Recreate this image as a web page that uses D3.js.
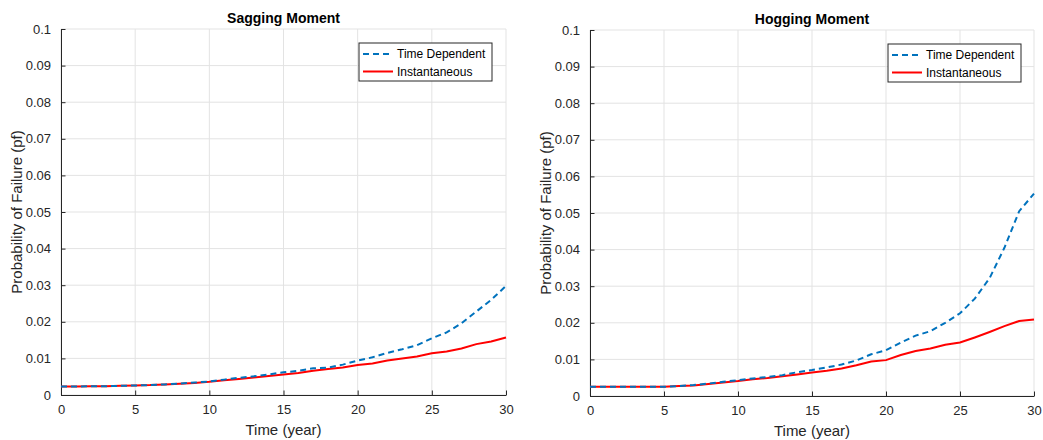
<!DOCTYPE html>
<html>
<head>
<meta charset="utf-8">
<script src="https://cdn.jsdelivr.net/npm/d3@7"></script>
<style>
  body { margin: 0; background: #fff; }
  svg { display: block; font-family: "Liberation Sans", Arial, sans-serif; }
</style>
</head>
<body>
<div id="chart"></div>
<script>
const years = d3.range(0, 31);
const xTicks = [0, 5, 10, 15, 20, 25, 30];
const yTicks = [0, 0.01, 0.02, 0.03, 0.04, 0.05, 0.06, 0.07, 0.08, 0.09, 0.1];
const yTickLabels = ["0", "0.01", "0.02", "0.03", "0.04", "0.05", "0.06", "0.07", "0.08", "0.09", "0.1"];
const seriesNames = ["Time Dependent", "Instantaneous"];

const sagTD = [0.0023, 0.0023, 0.0024, 0.0024, 0.0025, 0.0026, 0.0027, 0.0029, 0.0031, 0.0034,
  0.0037, 0.0042, 0.0047, 0.0051, 0.0056, 0.0062, 0.0066, 0.0073, 0.0075, 0.0083,
  0.0094, 0.0103, 0.0115, 0.0125, 0.0136, 0.0155, 0.0171, 0.0196, 0.0228, 0.026, 0.0298];
const sagInst = [0.0023, 0.0023, 0.0024, 0.0024, 0.0025, 0.0026, 0.0027, 0.0029, 0.0031, 0.0033,
  0.0036, 0.004, 0.0044, 0.0048, 0.0052, 0.0056, 0.006, 0.0066, 0.0071, 0.0075,
  0.0082, 0.0086, 0.0094, 0.01, 0.0105, 0.0114, 0.0119, 0.0127, 0.0139, 0.0146, 0.0157];
const hogTD = [0.0025, 0.0025, 0.0025, 0.0025, 0.0025, 0.0025, 0.0027, 0.003, 0.0034, 0.0039,
  0.0043, 0.0048, 0.0052, 0.0057, 0.0065, 0.0071, 0.0078, 0.0086, 0.0097, 0.0114,
  0.0125, 0.0146, 0.0165, 0.0177, 0.02, 0.0226, 0.0266, 0.0322, 0.0405, 0.0505, 0.0553];
const hogInst = [0.0025, 0.0025, 0.0025, 0.0025, 0.0025, 0.0025, 0.0027, 0.0029, 0.0033, 0.0037,
  0.0041, 0.0046, 0.0049, 0.0054, 0.0059, 0.0064, 0.0069, 0.0075, 0.0084, 0.0094,
  0.0098, 0.0112, 0.0123, 0.013, 0.014, 0.0146, 0.016, 0.0175, 0.0191, 0.0205, 0.0209];

const width = 1043, height = 440;
const axisColor = "#262626", gridColor = "#e3e3e3";
const blue = "#0072BD", red = "#FF0000";

const svg = d3.select("#chart").append("svg")
  .attr("width", width)
  .attr("height", height);

function drawPanel(opts) {
  const { left, right, top, bottom, title, td, inst, legend } = opts;

  const x = d3.scaleLinear().domain([0, 30]).range([left, right]);
  const y = d3.scaleLinear().domain([0, 0.1]).range([bottom, top]);
  const g = svg.append("g");

  // grid
  g.append("g").selectAll("line")
    .data(xTicks)
    .join("line")
    .attr("x1", d => x(d)).attr("x2", d => x(d))
    .attr("y1", top).attr("y2", bottom)
    .attr("stroke", gridColor);
  g.append("g").selectAll("line")
    .data(yTicks)
    .join("line")
    .attr("x1", left).attr("x2", right)
    .attr("y1", d => y(d)).attr("y2", d => y(d))
    .attr("stroke", gridColor);

  // axes, ticks inside
  const xAxis = g.append("g")
    .attr("transform", `translate(0,${bottom})`)
    .call(d3.axisBottom(x).tickValues(xTicks).tickSizeInner(-4.5).tickSizeOuter(0).tickPadding(12));
  const yAxis = g.append("g")
    .attr("transform", `translate(${left},0)`)
    .call(d3.axisLeft(y).tickValues(yTicks).tickFormat((d, i) => yTickLabels[i])
      .tickSizeInner(-4.5).tickSizeOuter(0).tickPadding(10));
  [xAxis, yAxis].forEach(a => {
    a.select(".domain").attr("stroke", axisColor).attr("stroke-width", 1);
    a.selectAll(".tick line").attr("stroke", axisColor);
    a.selectAll(".tick text").attr("fill", axisColor).style("font-size", "13px");
  });
  xAxis.selectAll(".tick text").attr("dy", "0.55em");

  // lines
  const line = vals => d3.line()
    .x((d, i) => x(years[i]))
    .y(d => y(d))(vals);

  g.append("path")
    .attr("d", line(inst))
    .attr("fill", "none")
    .attr("stroke", red)
    .attr("stroke-width", 2);
  g.append("path")
    .attr("d", line(td))
    .attr("fill", "none")
    .attr("stroke", blue)
    .attr("stroke-width", 2)
    .attr("stroke-dasharray", "6,4");

  // title and labels
  g.append("text")
    .attr("x", (left + right) / 2)
    .attr("y", top - 6)
    .attr("text-anchor", "middle")
    .style("font-size", "14px")
    .style("font-weight", "bold")
    .attr("fill", "#000")
    .text(title);
  g.append("text")
    .attr("x", (left + right) / 2)
    .attr("y", bottom + 40)
    .attr("text-anchor", "middle")
    .style("font-size", "15px")
    .attr("fill", axisColor)
    .text("Time (year)");
  g.append("text")
    .attr("transform", `translate(${left - 39},${(top + bottom) / 2}) rotate(-90)`)
    .attr("text-anchor", "middle")
    .style("font-size", "15px")
    .attr("fill", axisColor)
    .text("Probability of Failure (pf)");

  // legend
  const lg = g.append("g").attr("transform", `translate(${legend.x},${legend.y})`);
  lg.append("rect")
    .attr("width", 133).attr("height", 38)
    .attr("fill", "#fff")
    .attr("stroke", axisColor)
    .attr("stroke-width", 1);
  const styles = [{ c: blue, dash: "6,4" }, { c: red, dash: null }];
  seriesNames.forEach((name, i) => {
    const cy = 11 + i * 17.5;
    lg.append("line")
      .attr("x1", 4).attr("x2", 34)
      .attr("y1", cy).attr("y2", cy)
      .attr("stroke", styles[i].c)
      .attr("stroke-width", 2)
      .attr("stroke-dasharray", styles[i].dash);
    lg.append("text")
      .attr("x", 38).attr("y", cy)
      .attr("dy", "0.35em")
      .style("font-size", "12px")
      .attr("fill", "#000")
      .text(name);
  });
}

drawPanel({
  left: 61, right: 506, top: 29, bottom: 395,
  title: "Sagging Moment", td: sagTD, inst: sagInst,
  legend: { x: 359, y: 43 }
});
drawPanel({
  left: 590, right: 1034, top: 30, bottom: 396,
  title: "Hogging Moment", td: hogTD, inst: hogInst,
  legend: { x: 888, y: 44 }
});
</script>
</body>
</html>
